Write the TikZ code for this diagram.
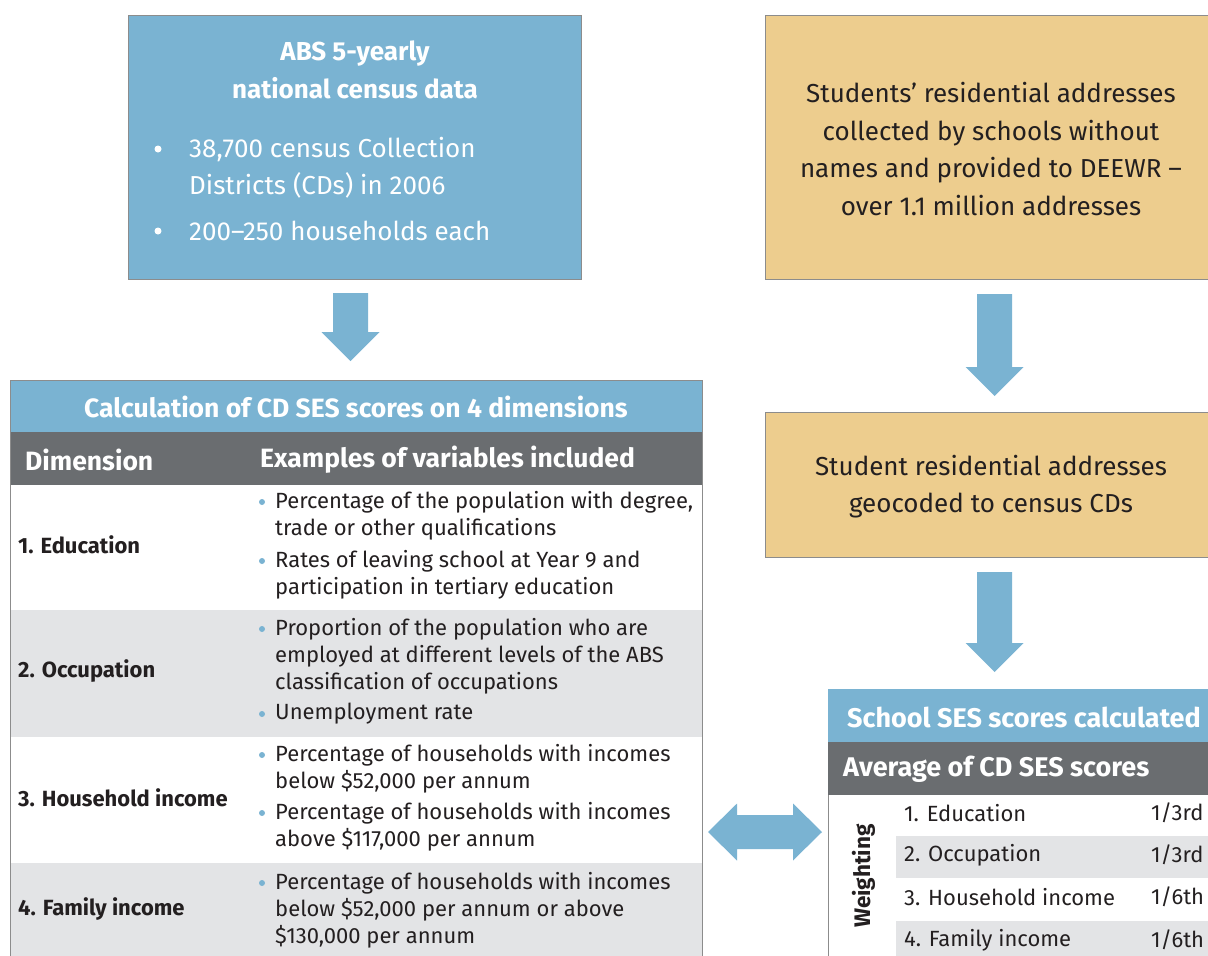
\documentclass[tikz,border=0pt]{standalone}
\usepackage{fontspec}
\setmainfont{Fira Sans}
\usetikzlibrary{calc}
\definecolor{boxblue}{HTML}{7AB3D2}
\definecolor{hdgray}{HTML}{6A6D70}
\definecolor{rowgray}{HTML}{E3E4E6}
\definecolor{tan}{HTML}{EDCD8E}
\definecolor{edgegray}{HTML}{8C8C8C}
\definecolor{ink}{HTML}{231F20}
\tikzset{
  box/.style={draw=edgegray, line width=1pt, inner sep=0pt},
  bluebox/.style={box, fill=boxblue},
  tanbox/.style={box, fill=tan},
  txt/.style={inner sep=0pt, text=ink},
  toptxt/.style={txt, font=\fontsize{26}{37.5}\selectfont, align=center},
  whitetxt/.style={inner sep=0pt, text=white, font=\fontsize{26}{37}\selectfont, align=left, anchor=west},
  hdtxt/.style={inner sep=0pt, text=white, font=\bfseries\fontsize{26.5}{30}\selectfont},
  rhdtxt/.style={inner sep=0pt, text=white, font=\bfseries\fontsize{27}{30}\selectfont, anchor=west},
  tabtxt/.style={txt, font=\fontsize{22}{27}\selectfont, align=left, anchor=west},
  rowlab/.style={txt, font=\bfseries\fontsize{22}{27}\selectfont, anchor=west},
  wtxt/.style={txt, font=\fontsize{22}{26}\selectfont, anchor=west},
  dot/.style={circle, fill=boxblue, inner sep=0pt, minimum size=6pt},
  wdot/.style={circle, fill=white, inner sep=0pt, minimum size=7pt},
  blk/.style={fill=boxblue},
}
\newcommand\vblk[4]{\fill[blk] (#1-17.5,#2) -- (#1+17.5,#2) -- (#1+17.5,#3) -- (#1+29,#3) -- (#1,#4) -- (#1-29,#3) -- (#1-17.5,#3) -- cycle;}
\begin{document}
\begin{tikzpicture}[x=1pt,y=-1pt]
\useasboundingbox (0,0) rectangle (1208,956);
% top boxes
\node[bluebox, minimum width=453pt, minimum height=264pt] (abs) at (354.5,147) {};
\node[tanbox, minimum width=460pt, minimum height=264pt, anchor=north west] (addr) at (765,15) {};
\node[inner sep=0pt, text=white, font=\bfseries\fontsize{26}{38}\selectfont, align=center] (abst) at (355,70) {ABS 5-yearly\\national census data};
\node[wdot] (ab1) at (158,149) {};
\node[whitetxt] (abb1) at (189,167.5) {38,700 census Collection\\Districts (CDs) in 2006};
\node[wdot] (ab2) at (158,231) {};
\node[whitetxt] (abb2) at (189,231) {200--250 households each};
\node[toptxt] (addrt) at (991,149) {Students’ residential addresses\\collected by schools without\\names and provided to DEEWR --\\over 1.1 million addresses};
% geocoded box
\node[tanbox, minimum width=460pt, minimum height=145pt, anchor=north west] (geo) at (765,412) {};
\node[toptxt] (geot) at (991,486.5) {Student residential addresses\\geocoded to census CDs};
% left table
\fill[boxblue] (10,380) rectangle (702,432);
\fill[hdgray] (10,432) rectangle (702,485);
\fill[rowgray] (10,610) rectangle (702,737);
\fill[rowgray] (10,863) rectangle (702,956);
\draw[edgegray, line width=1pt] (10,956) -- (10,380) -- (702,380) -- (702,956);
\node[hdtxt] (calct) at (356,407) {Calculation of CD SES scores on 4 dimensions};
\node[hdtxt, anchor=west] (dimh) at (25,460) {Dimension};
\node[hdtxt, anchor=west] (exh) at (260,460) {Examples of variables included};
\node[rowlab] (r1) at (18,545) {1. Education};
\node[rowlab] (r2) at (18,671) {2. Occupation};
\node[rowlab] (r3) at (18,798) {3. Household income};
\node[rowlab] (r4) at (18,909) {4. Family income};
\node[dot] (d11) at (262,502) {};
\node[tabtxt] (t11) at (275,515.5) {Percentage of the population with degree,\\trade or other qualifications};
\node[dot] (d12) at (262,561) {};
\node[tabtxt] (t12) at (275,574.5) {Rates of leaving school at Year 9 and\\participation in tertiary education};
\node[dot] (d21) at (262,629) {};
\node[tabtxt] (t21) at (275,656) {Proportion of the population who are\\employed at different levels of the ABS\\classification of occupations};
\node[dot] (d22) at (262,714) {};
\node[tabtxt] (t22) at (275,714) {Unemployment rate};
\node[dot] (d31) at (262,755) {};
\node[tabtxt] (t31) at (275,768.5) {Percentage of households with incomes\\below \$52,000 per annum};
\node[dot] (d32) at (262,813) {};
\node[tabtxt] (t32) at (275,826.5) {Percentage of households with incomes\\above \$117,000 per annum};
\node[dot] (d41) at (262,883) {};
\node[tabtxt] (t41) at (275,910) {Percentage of households with incomes\\below \$52,000 per annum or above\\\$130,000 per annum};
% right table
\fill[boxblue] (828,689) rectangle (1208,742);
\fill[hdgray] (828,742) rectangle (1208,795);
\fill[rowgray] (896,836) rectangle (1208,878);
\fill[rowgray] (896,921) rectangle (1208,956);
\draw[edgegray, line width=1pt] (828,795) -- (828,956);
\node[rhdtxt] (schoolt) at (847,717) {School SES scores calculated};
\node[rhdtxt] (avgt) at (843,769) {Average of CD SES scores};
\node[txt, font=\bfseries\fontsize{22.5}{26}\selectfont, rotate=90] (wt) at (863.5,876) {Weighting};
\node[wtxt] (w1) at (904,813) {1. Education};
\node[wtxt] (w2) at (904,855) {2. Occupation};
\node[wtxt] (w3) at (904,897) {3. Household income};
\node[wtxt] (w4) at (904,940) {4. Family income};
\node[wtxt] (v1) at (1151,813) {1/3rd};
\node[wtxt] (v2) at (1151,855) {1/3rd};
\node[wtxt] (v3) at (1151,897) {1/6th};
\node[wtxt] (v4) at (1151,940) {1/6th};
% block arrows
\vblk{350.5}{293}{332}{361}
\vblk{994.5}{294}{367}{396}
\vblk{994.5}{572}{643}{672}
\fill[blk] (708,832) -- (737,803.5) -- (737,815) -- (793,815) -- (793,803.5) -- (822,832) -- (793,860.5) -- (793,849) -- (737,849) -- (737,860.5) -- cycle;
\end{tikzpicture}
\end{document}
